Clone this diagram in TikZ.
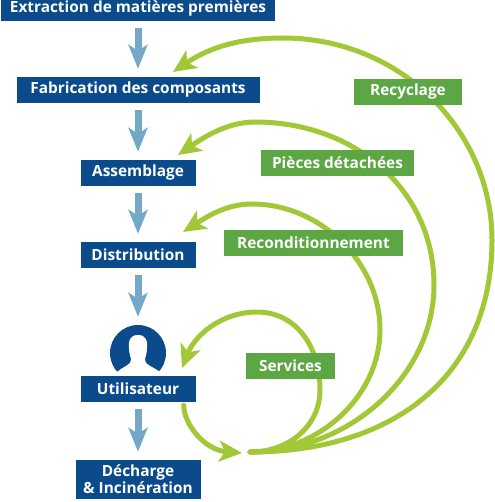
\documentclass[tikz,border=0pt]{standalone}
\usepackage{fontspec}
\setmainfont{Open Sans}
\usetikzlibrary{arrows.meta}
\definecolor{navy}{HTML}{0B4B8C}
\definecolor{flowblue}{HTML}{74A8C9}
\definecolor{loopgreen}{HTML}{A2C837}
\definecolor{tagreen}{HTML}{5CA644}
\tikzset{
  etape/.style={fill=navy,text=white,font=\bfseries\fontsize{15.4}{17}\selectfont,align=center,inner sep=0pt,minimum height=26pt},
  tag/.style={fill=tagreen,text=white,font=\bfseries\fontsize{15.4}{17}\selectfont,inner sep=0pt,minimum height=26pt},
  flow/.style={draw=flowblue,line width=7pt,-{Stealth[length=24pt,width=19pt,inset=6pt]},shorten <=7pt,shorten >=8pt},
  boucle/.style={draw=loopgreen,line width=5pt,line cap=round,-{Stealth[length=23pt,width=21pt,inset=6pt]}}
}
\begin{document}
\begin{tikzpicture}[x=1pt,y=-1pt]
  \useasboundingbox (0,0) rectangle (494,502);
  \node[etape,minimum width=274pt] (extraction) at (138,8) {Extraction de matières premières};
  \node[etape,minimum width=243pt] (fabrication) at (138,90) {Fabrication des composants};
  \node[etape,minimum width=115pt] (assemblage) at (138,173) {Assemblage};
  \node[etape,minimum width=115pt] (distribution) at (138,255) {Distribution};
  \node[circle,fill=navy,minimum size=56pt,inner sep=0pt] (avatar) at (138,353) {};
  \fill[white] (138,335) .. controls (130,335) and (128,341) .. (129,348)
    .. controls (129,354) and (131,357) .. (131,360) .. controls (131,365) and (124,366) .. (117,372)
    -- (117,377) -- (160,377) -- (160,372) .. controls (152,366) and (145,365) .. (145,360)
    .. controls (145,357) and (147,354) .. (147,348) .. controls (148,341) and (146,335) .. (138,335) -- cycle;
  \node[etape,minimum width=115pt] (utilisateur) at (138,389) {Utilisateur};
  \node[etape,minimum width=125pt,minimum height=39pt] (decharge) at (138,479.5) {Décharge\\\& Incinération};
  \coordinate (hub) at (250,452);
  \coordinate (retourrecyclage) at (173,72);
  \coordinate (retourpieces) at (178,155);
  \coordinate (retourrecond) at (183,232);
  \coordinate (retourservices) at (182,368);
  \coordinate (retourhub) at (242,453);
  \foreach \from/\to in {extraction/fabrication,fabrication/assemblage,assemblage/distribution,distribution/avatar,utilisateur/decharge}
    \draw[flow] (\from.south) -- (\to.north);
  \draw[boucle] (hub) .. controls (395,452) and (492,375) .. (492,240)
    .. controls (492,130) and (400,38) .. (283,38) .. controls (240,38) and (210,47) .. (retourrecyclage);
  \draw[boucle] (hub) .. controls (350,452) and (434,375) .. (434,285)
    .. controls (434,190) and (355,122) .. (255,122) .. controls (225,122) and (200,140) .. (retourpieces);
  \draw[boucle] (hub) .. controls (320,452) and (380,395) .. (380,330)
    .. controls (380,262) and (320,204) .. (252,204) .. controls (225,204) and (205,218) .. (retourrecond);
  \draw[boucle] (hub) .. controls (290,452) and (320,425) .. (320,390)
    .. controls (320,345) and (295,312) .. (257,312) .. controls (222,312) and (195,335) .. (retourservices);
  \draw[boucle] (utilisateur.south east) ++(-12,3) .. controls (184,425) and (205,450) .. (retourhub);
  \node[tag,minimum width=108pt] (recyclage) at (408,92) {Recyclage};
  \node[tag,minimum width=153pt] (pieces) at (337.5,163) {Pièces détachées};
  \node[tag,minimum width=179pt] (recond) at (313.5,242.5) {Reconditionnement};
  \node[tag,minimum width=89pt] (services) at (290.5,366) {Services};
\end{tikzpicture}
\end{document}
